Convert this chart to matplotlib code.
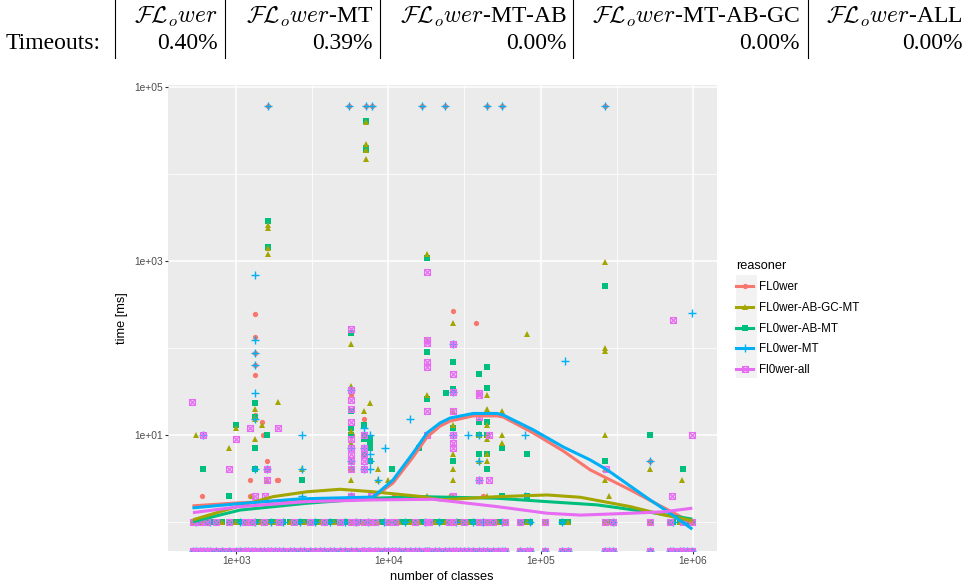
import matplotlib
matplotlib.use("Agg")
import matplotlib.pyplot as plt
from matplotlib.path import Path
from matplotlib.lines import Line2D
from matplotlib.patches import Rectangle
from matplotlib.ticker import FixedLocator, FixedFormatter, NullFormatter

plt.rcParams['font.family'] = ['Liberation Sans', 'DejaVu Sans']
plt.rcParams['mathtext.fontset'] = 'cm'

# ---- data (number of classes -> run times in ms) ----
reasoners = ["FL0wer", "FL0wer-AB-GC-MT", "FL0wer-AB-MT", "FL0wer-MT", "Fl0wer-all"]
colors = ["#F8766D", "#A3A500", "#00BF7D", "#00B0F6", "#E76BF3"]

timeout_ms = 60000
timeout_classes = [1617, 5510, 7130, 7820, 16600, 23400, 44500, 56000, 265700]

# ontologies answered in 1 ms (and in 0 ms, drawn on the lower border)
fast_classes = [519, 541, 577, 601, 640, 671, 740, 805, 896, 1000, 1057, 1140, 1200,
                1268, 1322, 1432, 1520, 1615, 1700, 1800, 1900, 2027, 2254, 2400,
                2624, 2800, 3055, 3300, 3556, 3800, 4131, 4400, 4809, 5200, 5660,
                6124, 6714, 6920, 7345, 7570, 8166, 8600, 9300, 9950, 10600, 11070,
                11800, 12882, 13900, 14996, 16000, 17420, 17900, 18500, 20280, 21500,
                23600, 25000, 26550, 28000, 29640, 31500, 33420, 36000, 39100, 42000,
                44800, 48500, 52700, 55600, 58610, 73450, 80900, 85500, 107400,
                139000, 152000, 265700, 283000, 298000, 521000, 713000, 738000,
                828000, 863000, 921000, 991000]
olive_fast = [519, 601, 805, 1000, 1200, 1432, 1615, 1800, 2254, 2800, 3556, 4400,
              5660, 6714, 7570, 8600, 9950, 11800, 13900, 16000, 17900, 20280, 23600,
              26550, 29640, 33420, 39100, 44800, 52700, 58610, 80900, 107400, 152000,
              265700, 283000, 521000, 828000, 991000]
blue_fast = [541, 671, 1057, 1322, 1700, 2027, 2624, 3300, 4131, 5200, 6124, 7345,
             9300, 12882, 17420, 21500, 28000, 36000, 42000, 55600, 85500, 139000,
             298000, 738000, 921000]
pink_fast = [519, 577, 640, 740, 896, 1140, 1268, 1520, 1900, 2400, 3055, 3800, 4809,
             5660, 6124, 6920, 7570, 8166, 9950, 11070, 14996, 17900, 18500, 25000,
             26550, 31500, 39100, 44800, 48500, 58610, 73450, 107400, 265700, 298000,
             521000, 713000, 863000, 991000]

red_slow = {1322: [245, 132, 87, 64, 49, 17], 1231: [3, 2], 1507: [10], 1470: [14],
            1600: [5, 4], 598: [2], 1845: [3], 1888: [3], 5660: [29], 5770: [10],
            6920: [15], 10800: [2], 26550: [263], 37600: [192], 42000: [2], 521000: [5]}
olive_slow = {1617: [2600, 2400, 1400, 1200], 7130: [40000, 22000, 19000, 15000],
              1322: [20, 16, 15, 9], 541: [10], 896: [7], 1003: [12], 1469: [13],
              1888: [24], 1262: [2], 1585: [3], 2690: [4],
              5660: [110, 36, 11, 8, 5, 4, 3, 2], 6920: [19], 7550: [23, 2],
              8510: [4, 3], 9990: [3], 17900: [1200, 122, 29, 10, 2],
              26550: [192, 19, 13, 6, 4, 3, 2], 25500: [2], 39100: [30, 10, 5],
              44800: [29, 20, 13, 10, 9, 6, 5, 2], 55600: [19, 10, 8], 81500: [143],
              265700: [967, 101, 93, 10, 4, 3], 283000: [2], 521000: [4], 851000: [3]}
green_slow = {1617: [2900, 1450], 7130: [40700, 20000, 19000], 1322: [23, 16, 7, 4],
              607: [4], 900: [2], 1003: [13], 1600: [10], 2690: [3],
              5660: [147, 19, 12, 10, 4, 2], 6920: [13, 10, 9, 6], 7570: [9, 8, 7, 5],
              10600: [4], 16000: [7], 17900: [1070, 89, 26], 23900: [30],
              26550: [68, 34, 12, 5], 39100: [50, 14, 10, 6],
              44800: [60, 35, 14, 10, 6, 4], 55700: [7, 2], 80900: [6, 2],
              265700: [513, 5], 521000: [10], 863000: [4]}
blue_slow = {1322: [686, 123, 87, 64, 30, 15, 4], 601: [10], 1600: [4], 2690: [10, 4, 2],
             5660: [33, 7, 5, 2], 6920: [12, 7, 4], 7570: [10, 6, 5, 4], 8510: [3],
             9500: [7], 13900: [15], 26550: [110, 31, 10], 33600: [10],
             39100: [10, 5, 3], 79200: [10, 2], 144000: [70], 521000: [5], 991000: [250]}
pink_slow = {514: [24], 601: [10], 896: [4], 1003: [9], 1231: [12], 1879: [12],
             1594: [4, 3], 1322: [2], 1545: [2],
             5660: [164, 33, 25, 20, 14, 9, 7, 6, 5, 4, 2], 6920: [10, 7, 6, 5, 4],
             7690: [2], 17900: [755, 123, 113, 69, 61, 19, 10],
             26550: [110, 50, 31, 19, 10, 8, 7, 2], 39100: [30, 29, 16, 3],
             45900: [10, 3], 270000: [4], 738000: [208], 733000: [2], 991000: [10]}

# smoothed trends
red_smooth_x = [515, 995, 2624, 7925, 10720, 14520, 17950, 21870, 25460, 36080, 51900,
                56830, 89550, 141000, 212300, 389300, 692200, 995000]
red_smooth_y = [1.52, 1.64, 1.78, 1.87, 2.79, 5.55, 9.43, 12.6, 14.4, 16.5, 16.5, 16.0,
                10.5, 6.51, 3.94, 2.32, 1.36, 0.97]
blue_smooth_x = [515, 995, 2624, 7925, 10720, 14520, 17950, 21870, 25460, 36080, 51900,
                 56830, 89550, 141000, 212300, 274700, 503500, 692200, 995000]
blue_smooth_y = [1.44, 1.60, 1.83, 1.92, 3.02, 6.17, 10.5, 13.7, 15.6, 17.6, 17.6, 16.9,
                 11.4, 7.24, 5.13, 3.94, 1.87, 1.29, 0.82]
olive_smooth_x = [519, 1011, 1744, 2918, 4809, 7925, 16710, 21870, 51900, 110700,
                  182500, 389300, 651200, 995000]
olive_smooth_y = [1.05, 1.49, 1.94, 2.21, 2.36, 2.21, 1.94, 1.78, 1.94, 2.03, 1.91,
                  1.49, 1.19, 1.03]
green_smooth_x = [519, 1057, 2918, 7925, 16420, 51900, 110700, 236200, 503500, 995000]
green_smooth_y = [1.0, 1.36, 1.63, 1.86, 1.94, 1.86, 1.70, 1.56, 1.30, 1.07]
pink_smooth_x = [519, 1057, 2918, 7925, 19680, 51900, 110700, 182500, 389300, 651200,
                 995000]
pink_smooth_y = [1.27, 1.49, 1.70, 1.78, 1.81, 1.49, 1.25, 1.19, 1.25, 1.30, 1.43]

x_ticks = [1e3, 1e4, 1e5, 1e6]
x_tick_labels = ["1e+03", "1e+04", "1e+05", "1e+06"]
x_minor = [10 ** 2.5, 10 ** 3.5, 10 ** 4.5, 10 ** 5.5]
y_ticks = [1e1, 1e3, 1e5]
y_tick_labels = ["1e+01", "1e+03", "1e+05"]
y_minor = [1e0, 1e2, 1e4]

table_head = [r"$\mathcal{FL}_o wer$", r"$\mathcal{FL}_o wer$-MT",
              r"$\mathcal{FL}_o wer$-MT-AB", r"$\mathcal{FL}_o wer$-MT-AB-GC",
              r"$\mathcal{FL}_o wer$-ALL"]
table_vals = ["0.40%", "0.39%", "0.00%", "0.00%", "0.00%"]

# ---- figure ----
W, H = 970, 585
fig = plt.figure(figsize=(W / 100, H / 100), dpi=100)
ax = fig.add_axes([168.3 / W, 1 - 550.7 / H, (717 - 168.3) / W, (550.7 - 85.3) / H])
ax.set_facecolor("#EBEBEB")
ax.set_xscale("log")
ax.set_yscale("log")
ax.set_xlim(10 ** 2.553, 10 ** 6.16)
ax.set_ylim(10 ** -0.334, 10 ** 5.022)
y_floor = ax.get_ylim()[0]

# ggplot shape 7 (square with a cross)
box_x = Path([(-1, -1), (1, -1), (1, 1), (-1, 1), (-1, -1), (-1, -1), (1, 1), (-1, 1), (1, -1)],
             [Path.MOVETO, Path.LINETO, Path.LINETO, Path.LINETO, Path.CLOSEPOLY,
              Path.MOVETO, Path.LINETO, Path.MOVETO, Path.LINETO])

styles = [dict(marker="o", ms=3.8, mew=0),
          dict(marker="^", ms=4.6, mew=0),
          dict(marker="s", ms=3.7, mew=0),
          dict(marker="+", ms=6.0, mew=1.0),
          dict(marker=box_x, ms=4.2, mew=0.9, mfc="none")]
slow = [red_slow, olive_slow, green_slow, blue_slow, pink_slow]
fast = [fast_classes, olive_fast, fast_classes, blue_fast, pink_fast]

draw_order = [0, 2, 1, 3, 4]
for i in draw_order:
    xs, ys = [], []
    for n, times in slow[i].items():
        xs += [n] * len(times)
        ys += times
    xs += fast[i]
    ys += [1] * len(fast[i])
    if i in (0, 3):
        xs += timeout_classes
        ys += [timeout_ms] * len(timeout_classes)
    ax.plot(xs, ys, ls="none", color=colors[i], mec=colors[i], zorder=3, **styles[i])
    # zero ms -> log10 gives -Inf, drawn on the panel border
    ax.plot(fast_classes, [y_floor] * len(fast_classes), ls="none", color=colors[i],
            mec=colors[i], zorder=3, **styles[i])

smooths = [(red_smooth_x, red_smooth_y), (olive_smooth_x, olive_smooth_y),
           (green_smooth_x, green_smooth_y), (blue_smooth_x, blue_smooth_y),
           (pink_smooth_x, pink_smooth_y)]
for i in draw_order:
    sx, sy = smooths[i]
    ax.plot(sx, sy, color=colors[i], lw=2.2, zorder=4, solid_capstyle="butt")

# axes styling
ax.xaxis.set_major_locator(FixedLocator(x_ticks))
ax.xaxis.set_major_formatter(FixedFormatter(x_tick_labels))
ax.xaxis.set_minor_locator(FixedLocator(x_minor))
ax.xaxis.set_minor_formatter(NullFormatter())
ax.yaxis.set_major_locator(FixedLocator(y_ticks))
ax.yaxis.set_major_formatter(FixedFormatter(y_tick_labels))
ax.yaxis.set_minor_locator(FixedLocator(y_minor))
ax.yaxis.set_minor_formatter(NullFormatter())
ax.grid(which="major", color="white", lw=1.1)
ax.grid(which="minor", color="white", lw=0.55)
ax.set_axisbelow(True)
for s in ax.spines.values():
    s.set_visible(False)
ax.tick_params(which="major", length=2.5, width=0.8, color="#333333",
               labelcolor="#4D4D4D", labelsize=7.4, pad=1.5)
ax.tick_params(which="minor", length=0)

fig.text(121.7 / W, 1 - 318 / H, "time [ms]", rotation=90, ha="center", va="center",
         fontsize=9.2)
fig.text(441.3 / W, 1 - 580 / H, "number of classes", ha="center", va="baseline",
         fontsize=9.2)

# legend
fig.add_artist(Rectangle((736 / W, 1 - 378 / H), 21 / W, 103 / H,
                         transform=fig.transFigure, facecolor="#F2F2F2",
                         edgecolor="none", zorder=0))
handles = [Line2D([0], [0], color=colors[i], lw=2.2, **styles[i]) for i in range(5)]
leg = fig.legend(handles, reasoners, loc="upper left",
                 bbox_to_anchor=(736 / W, 1 - 260 / H), frameon=False, fontsize=8.4,
                 title="reasoner", title_fontsize=9.2, handlelength=1.5,
                 handletextpad=0.5, labelspacing=0.76, borderpad=0,
                 borderaxespad=0, alignment="left")

# timeout table on top
serif = ["Liberation Serif", "DejaVu Serif"]
fig.text(6 / W, 1 - 49 / H, "Timeouts:", ha="left", va="baseline", fontsize=17,
         family=serif)
col_right = [218, 373, 567, 800, 963]
for head, val, xr in zip(table_head, table_vals, col_right):
    fig.text(xr / W, 1 - 23 / H, head, ha="right", va="baseline", fontsize=17, family=serif)
    fig.text(xr / W, 1 - 49 / H, val, ha="right", va="baseline", fontsize=17, family=serif)
for xb in [115, 225, 380, 573, 808]:
    fig.add_artist(Line2D([xb / W, xb / W], [1, 1 - 58 / H], transform=fig.transFigure,
                          color="black", lw=0.8))

fig.savefig("out.png", dpi=100)
